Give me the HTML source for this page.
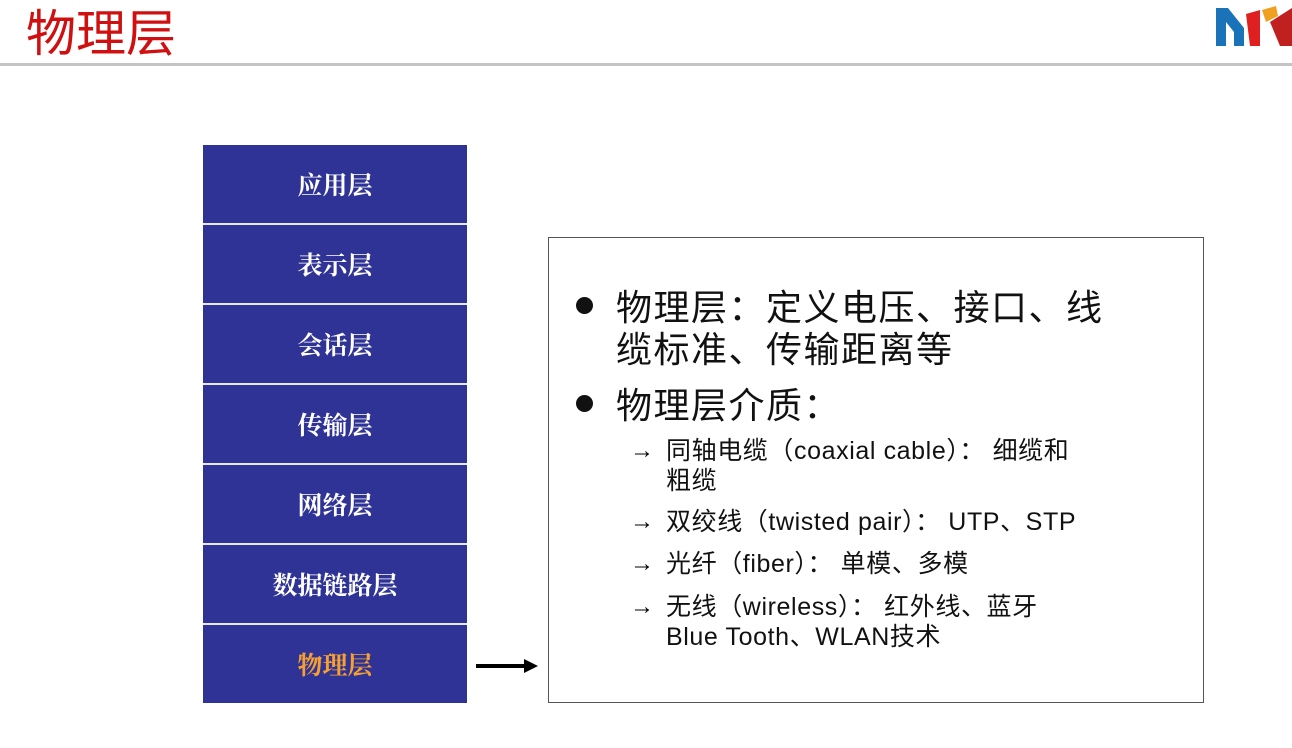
<!DOCTYPE html>
<html><head><meta charset="utf-8"><style>
body{margin:0;width:1292px;height:748px;background:#fff;position:relative;overflow:hidden;font-family:"Liberation Sans","Noto Sans CJK SC",sans-serif}
.t{position:absolute;left:26px;top:-6px;font-size:50px;color:#d01010;font-family:"Noto Sans CJK SC",sans-serif}
.hr{position:absolute;left:0;top:63px;width:1292px;height:3px;background:#c4c4c4}
.stack{position:absolute;left:203px;top:145px;width:264px}
.l{height:78px;border-bottom:2px solid #e8e8f4;background:#2f3396;color:#fff;font-size:25px;font-weight:bold;text-align:center;line-height:78px;font-family:"Noto Serif CJK SC",serif}
.l:last-child{border-bottom:none}
.box{position:absolute;left:548px;top:237px;width:656px;height:466px;border:1px solid #555;box-sizing:border-box}
.b{position:absolute;font-size:36px;color:#111;font-family:"Noto Sans CJK SC",sans-serif;line-height:42px;font-weight:400;letter-spacing:1.5px}
.dot{position:absolute;left:576px;width:17px;height:17px;border-radius:50%;background:#111}
.s{position:absolute;left:666px;font-size:25px;color:#111;line-height:30px;letter-spacing:0.6px}
.a{position:absolute;left:630px;font-size:24px}
</style></head><body>
<div class="t">物理层</div>
<div class="hr"></div>
<svg style="position:absolute;left:1214px;top:2px" width="78" height="46">
<polygon points="2,6 14,6 30,26 30,44 20,44 20,30 12,20 12,44 2,44" fill="#1a72b8"/>
<polygon points="32,12 46,8 46,44 36,44" fill="#e02020"/>
<polygon points="48,8 62,4 64,14 52,20" fill="#f0a020"/>
<polygon points="56,20 78,6 78,44 66,44" fill="#c02020"/>
</svg>
<div class="stack">
<div class="l">应用层</div><div class="l">表示层</div><div class="l">会话层</div><div class="l">传输层</div><div class="l">网络层</div><div class="l">数据链路层</div><div class="l" style="color:#f7a030">物理层</div>
</div>
<div style="position:absolute;left:476px;top:664px;width:50px;height:4px;background:#000"></div>
<div style="position:absolute;left:524px;top:659px;border-left:14px solid #000;border-top:7px solid transparent;border-bottom:7px solid transparent"></div>
<div class="box"></div>
<div class="dot" style="top:297px"></div>
<div class="b" style="left:616px;top:284px">物理层：定义电压、接口、线<br>缆标准、传输距离等</div>
<div class="dot" style="top:395px"></div>
<div class="b" style="left:616px;top:382px">物理层介质：</div>
<div class="a" style="top:437px">→</div><div class="s" style="top:436px">同轴电缆（coaxial cable）：&nbsp;细缆和<br>粗缆</div>
<div class="a" style="top:508px">→</div><div class="s" style="top:507px">双绞线（twisted pair）：&nbsp;UTP、STP</div>
<div class="a" style="top:550px">→</div><div class="s" style="top:549px">光纤（fiber）：&nbsp;单模、多模</div>
<div class="a" style="top:593px">→</div><div class="s" style="top:592px">无线（wireless）：&nbsp;红外线、蓝牙<br>Blue Tooth、WLAN技术</div>
</body></html>
